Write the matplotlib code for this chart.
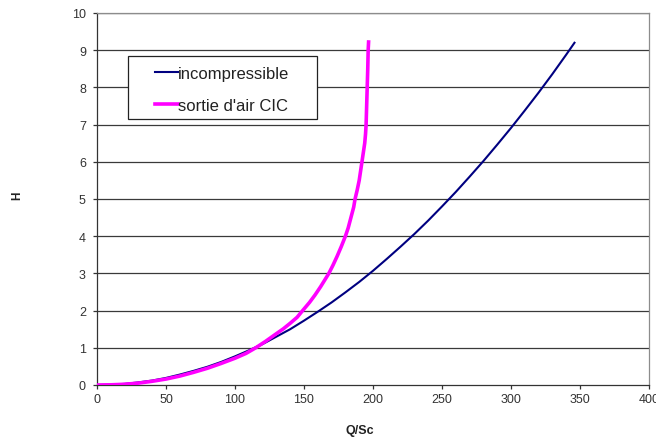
import matplotlib
matplotlib.use("Agg")
import matplotlib.pyplot as plt
from matplotlib.patches import Rectangle

plt.rcParams["font.family"] = ["Liberation Sans", "DejaVu Sans"]

# incompressible curve
q_inc = [0, 10, 20, 30, 40, 50, 60, 70, 80, 90, 100, 110, 120, 130, 140, 150, 160, 170, 180, 190,
         200, 210, 220, 230, 240, 250, 260, 270, 280, 290, 300, 310, 320, 330, 340, 346]
h_inc = [0, 0.01, 0.03, 0.07, 0.12, 0.19, 0.28, 0.38, 0.49, 0.62, 0.77, 0.93, 1.1, 1.3, 1.5, 1.73,
         1.97, 2.22, 2.49, 2.77, 3.07, 3.39, 3.72, 4.06, 4.42, 4.8, 5.19, 5.6, 6.02, 6.46, 6.91,
         7.38, 7.86, 8.36, 8.88, 9.2]

# sortie d'air CIC curve
q_cic = [0, 10, 20, 30, 40, 50, 60, 70, 80, 90, 100, 108, 115, 122, 130, 135, 140, 145, 149, 154,
         158, 162, 165, 168, 171, 174, 177, 180, 182, 184, 186, 187, 188.6, 190, 191, 192, 193, 194,
         194.6, 195, 195.4, 195.8, 196.2, 196.5, 196.8]
h_cic = [0, 0.005, 0.02, 0.05, 0.1, 0.16, 0.24, 0.34, 0.45, 0.58, 0.72, 0.85, 1.0, 1.17, 1.38,
         1.51, 1.66, 1.82, 2.0, 2.22, 2.42, 2.64, 2.82, 3.0, 3.22, 3.46, 3.72, 4.0, 4.22, 4.5, 4.78,
         5.0, 5.25, 5.5, 5.75, 6.0, 6.25, 6.5, 6.75, 7.0, 7.5, 8.0, 8.5, 9.0, 9.22]

labels = ["incompressible", "sortie d'air CIC"]
x_ticks = [0, 50, 100, 150, 200, 250, 300, 350, 400]
y_ticks = list(range(0, 11))

fig = plt.figure(figsize=(6.56, 4.39), dpi=100)
ax = fig.add_axes([97 / 656, 1 - 386 / 439, 552 / 656, 372 / 439])

for y in y_ticks[1:]:
    ax.axhline(y, color="#3a3a3a", lw=0.9, zorder=1)

ax.plot(q_inc, h_inc, color="#000080", lw=1.5, label=labels[0], zorder=3)
ax.plot(q_cic, h_cic, color="#ff00ff", lw=2.6, label=labels[1], zorder=3)

ax.set_xlim(0, 400)
ax.set_ylim(0, 10)
ax.set_xticks(x_ticks)
ax.set_yticks(y_ticks)
ax.tick_params(labelsize=9, colors="#333333", length=3, width=0.9)
ax.tick_params(axis="y", pad=5)
ax.tick_params(axis="x", pad=3)

for s in ["top", "right"]:
    ax.spines[s].set_color("#8c8c8c")
    ax.spines[s].set_linewidth(0.9)
for s in ["left", "bottom"]:
    ax.spines[s].set_color("#333333")
    ax.spines[s].set_linewidth(0.9)

# legend frame drawn separately (wider side padding than matplotlib allows)
ax.add_patch(Rectangle((128 / 656, 1 - 120 / 439), 189 / 656, 63 / 439,
                       transform=fig.transFigure, facecolor="white",
                       edgecolor="#222222", lw=0.9, zorder=4, clip_on=False))

leg = ax.legend(loc="upper left", bbox_to_anchor=(155 / 656, 1 - 67 / 439),
                bbox_transform=fig.transFigure, frameon=False, fontsize=12,
                borderpad=0, borderaxespad=0, handlelength=1.38,
                handletextpad=0.02, labelspacing=1.0)
leg.set_zorder(5)
for t in leg.get_texts():
    t.set_color("#222222")

fig.text(17.5 / 656, 1 - 195.5 / 439, "H", rotation=90, fontsize=8.5, fontweight="bold",
         ha="center", va="center", color="#222222")
fig.text(360 / 656, 1 - 431 / 439, "Q/Sc", fontsize=9, fontweight="bold",
         ha="center", va="center", color="#222222")

fig.savefig("out.png", dpi=100)
